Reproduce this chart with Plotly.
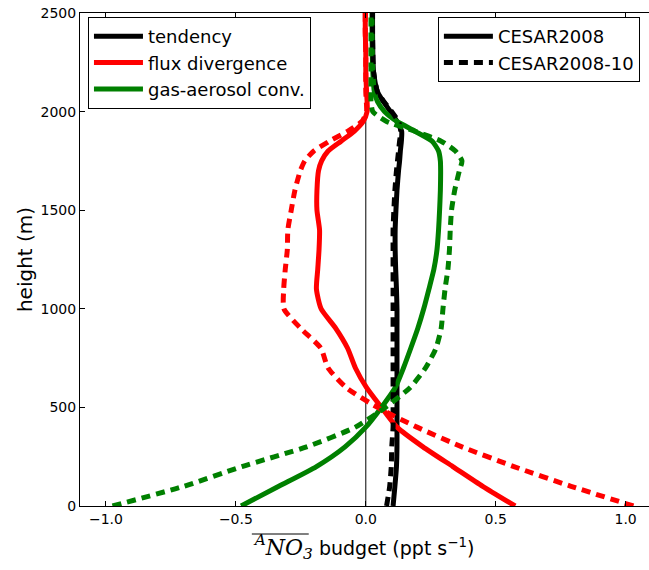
import plotly.graph_objects as go

# Vertical levels (m) at which the budget terms are given
height = [0, 100, 200, 300, 400, 500, 600, 700, 800, 900, 1000, 1100, 1200,
          1300, 1400, 1500, 1600, 1700, 1750, 1800, 1850, 1900, 1950, 2000,
          2050, 2100, 2200, 2300, 2400, 2500]

# Budget terms (ppt s-1), CESAR2008
tend_2008 = [0.105, 0.112, 0.118, 0.12, 0.12, 0.12, 0.12, 0.12, 0.12, 0.12,
             0.12, 0.118, 0.115, 0.113, 0.113, 0.116, 0.12, 0.126, 0.13,
             0.133, 0.137, 0.138, 0.12, 0.095, 0.068, 0.045, 0.03, 0.027,
             0.026, 0.026]
flux_2008 = [0.575, 0.45, 0.335, 0.22, 0.12, 0.06, 0.003, -0.04, -0.07,
             -0.115, -0.172, -0.19, -0.185, -0.18, -0.178, -0.188, -0.188,
             -0.182, -0.17, -0.145, -0.095, -0.045, -0.01, 0.005, 0.005,
             0.003, 0.0, 0.0, -0.002, -0.002]
gas_2008 = [-0.48, -0.335, -0.19, -0.08, 0.0, 0.06, 0.113, 0.145, 0.173, 0.2,
            0.223, 0.243, 0.262, 0.274, 0.28, 0.284, 0.287, 0.288, 0.287,
            0.28, 0.255, 0.19, 0.12, 0.072, 0.045, 0.033, 0.027, 0.025,
            0.024, 0.024]

# Budget terms (ppt s-1), CESAR2008-10
tend_2008_10 = [0.08, 0.092, 0.098, 0.1, 0.105, 0.105, 0.105, 0.105, 0.105,
                0.105, 0.105, 0.105, 0.105, 0.105, 0.105, 0.108, 0.112, 0.118,
                0.122, 0.126, 0.13, 0.135, 0.125, 0.1, 0.07, 0.045, 0.03,
                0.027, 0.026, 0.026]
flux_2008_10 = [1.03, 0.79, 0.57, 0.37, 0.197, 0.045, -0.075, -0.145, -0.173,
                -0.25, -0.315, -0.316, -0.31, -0.302, -0.3, -0.287, -0.273,
                -0.252, -0.235, -0.2, -0.14, -0.07, -0.015, 0.003, 0.002,
                0.0, 0.0, 0.0, -0.002, -0.002]
gas_2008_10 = [-0.975, -0.7, -0.477, -0.228, -0.04, 0.075, 0.17, 0.23, 0.27,
               0.29, 0.297, 0.305, 0.316, 0.322, 0.325, 0.33, 0.342, 0.36,
               0.37, 0.345, 0.29, 0.19, 0.08, 0.027, 0.02, 0.02, 0.02, 0.02,
               0.02, 0.02]

terms = ["tendency", "flux divergence", "gas-aerosol conv."]
colors = ["black", "#ff0000", "#008000"]
runs = ["CESAR2008", "CESAR2008-10"]

x_ticks = [-1.0, -0.5, 0.0, 0.5, 1.0]
y_ticks = [0, 500, 1000, 1500, 2000, 2500]

FONT = "DejaVu Sans"
LW = 5
DASH = "9px,6px"

fig = go.Figure()

series = [
    (tend_2008, colors[0], "solid"),
    (flux_2008, colors[1], "solid"),
    (gas_2008, colors[2], "solid"),
    (tend_2008_10, colors[0], DASH),
    (flux_2008_10, colors[1], DASH),
    (gas_2008_10, colors[2], DASH),
]
for vals, col, dash in series:
    fig.add_trace(go.Scatter(
        x=vals, y=height, mode="lines",
        line=dict(color=col, width=LW, dash=dash, shape="spline",
                  smoothing=0.6),
        showlegend=False, hoverinfo="skip",
    ))

# Legend of budget terms (colours)
for name, col in zip(terms, colors):
    fig.add_trace(go.Scatter(
        x=[None], y=[None], mode="lines", name=name,
        line=dict(color=col, width=LW), legend="legend",
    ))

# Legend of runs (line styles)
for name, dash in zip(runs, ["solid", DASH]):
    fig.add_trace(go.Scatter(
        x=[None], y=[None], mode="lines", name=name,
        line=dict(color="black", width=LW, dash=dash), legend="legend2",
    ))

axis_common = dict(
    showgrid=False, zeroline=False,
    showline=True, linecolor="black", linewidth=1,
    ticks="inside", ticklen=5, tickcolor="black", tickwidth=1,
    tickfont=dict(family=FONT, size=14, color="black"),
)

MATH = "font-family:'DejaVu Serif';font-size:22px"
fig.update_xaxes(
    range=[-1.1, 1.09], tickvals=x_ticks,
    ticktext=[("%.1f" % v).replace("-", "\u2212") for v in x_ticks],
    mirror="ticks",
    title=dict(
        text=("<span style=\"%s\"><i><sup>A</sup>NO<sub>3</sub></i></span>"
              " budget (ppt s<sup>\u22121</sup>)") % MATH,
        font=dict(family=FONT, size=19, color="black"), standoff=15,
    ),
    **axis_common,
)
fig.update_yaxes(
    range=[0, 2500], tickvals=y_ticks,
    title=dict(text="height (m)", font=dict(family=FONT, size=20, color="black"),
               standoff=2),
    **axis_common,
)

# Thin line at zero budget
fig.add_shape(type="line", xref="x", yref="paper", x0=0, x1=0, y0=0, y1=1,
              line=dict(color="black", width=1), layer="below")

# Overbar of the species symbol in the x-axis title
fig.add_shape(type="line", xref="paper", yref="paper", x0=0.302, x1=0.402,
              y0=-0.0568, y1=-0.0568, line=dict(color="black", width=1))

legend_style = dict(
    bgcolor="white", bordercolor="black", borderwidth=1,
    font=dict(family=FONT, size=18, color="black"),
    xanchor="left", yanchor="top", itemwidth=49,
)

fig.update_layout(
    width=649, height=570,
    margin=dict(l=80, r=0, t=13, b=64),
    paper_bgcolor="white", plot_bgcolor="white",
    legend=dict(x=0.014, y=0.992, **legend_style),
    legend2=dict(x=0.629, y=0.992, **legend_style),
)

fig.write_html("out.html")
